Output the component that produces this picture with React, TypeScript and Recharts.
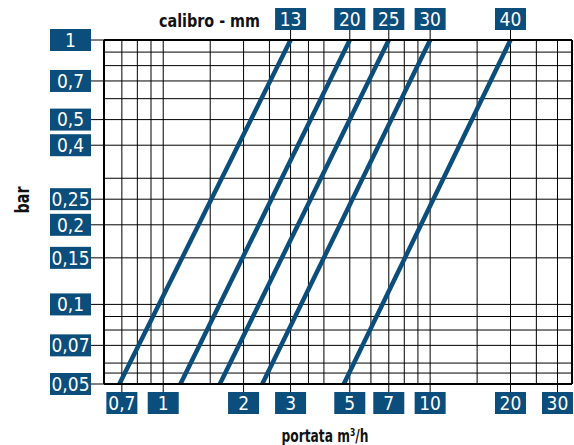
import React from 'react';
import { LineChart, Line, XAxis, YAxis, ReferenceLine } from 'recharts';

// Portata (m³/h) range and pressure drop (bar) range
const X_DOMAIN = [0.6, 34];
const Y_DOMAIN = [0.05, 1];
const X_TICKS = [0.7, 1, 2, 3, 5, 7, 10, 20, 30];
const Y_TICKS = [1, 0.7, 0.5, 0.4, 0.25, 0.2, 0.15, 0.1, 0.07, 0.05];
const X_GRID = [0.7, 0.8, 0.9, 1, 1.5, 2, 2.5, 3, 3.5, 4, 5, 6, 7, 8, 9, 10, 15, 20, 25, 30];
const Y_GRID = [0.9, 0.8, 0.7, 0.6, 0.5, 0.4, 0.3, 0.25, 0.2, 0.15, 0.1, 0.09, 0.08, 0.07, 0.06, 0.055];

// calibri (mm) and their flow at 1 bar / at 0.05 bar
const CALIBRI = ['13', '20', '25', '30', '40'];
const Q_AT_MAX = [3, 5, 7, 10, 20];
const Q_AT_MIN = [0.685, 1.16, 1.63, 2.35, 4.75];
const P_MIN = 0.05;
const P_MAX = 1;

const BLUE = '#0b4d7b';
const FONT = "'Liberation Sans Narrow', 'Arial Narrow', 'DejaVu Sans Condensed', sans-serif";

const fmt = (v: number) => String(v).replace('.', ',');
const calibroFor = (v: number) => {
  const i = Q_AT_MAX.indexOf(v);
  return i >= 0 ? CALIBRI[i] : '';
};

const YTick = (props: any) => {
  const { x, y, payload } = props;
  return (
    <g>
      <rect x={x - 41} y={y - 11} width={41} height={22} fill={BLUE} />
      <text x={x - 20.5} y={y} dy="0.36em" textAnchor="middle" fill="#fff" fontSize={19} fontFamily={FONT}>
        {fmt(payload.value)}
      </text>
    </g>
  );
};

const XTick = (props: any) => {
  const { x, y, payload } = props;
  return (
    <g>
      <rect x={x - 15.5} y={y} width={31} height={22} fill={BLUE} />
      <text x={x} y={y + 11} dy="0.36em" textAnchor="middle" fill="#fff" fontSize={19} fontFamily={FONT}>
        {fmt(payload.value)}
      </text>
    </g>
  );
};

const TopTick = (props: any) => {
  const { x, y, payload } = props;
  return (
    <g>
      <rect x={x - 15.5} y={y - 22} width={31} height={22} fill={BLUE} />
      <text x={x} y={y - 11} dy="0.36em" textAnchor="middle" fill="#fff" fontSize={19} fontFamily={FONT}>
        {calibroFor(payload.value)}
      </text>
    </g>
  );
};

const series = CALIBRI.map((c, i) => ({
  name: c,
  data: [
    { q: Q_AT_MIN[i], p: P_MIN },
    { q: Q_AT_MAX[i], p: P_MAX },
  ],
}));

export default function App() {
  return (
    <div style={{ position: 'absolute', left: 0, top: 0, width: 574, height: 445, background: '#fff' }}>
      <LineChart width={574} height={445} margin={{ top: 0, right: 2, bottom: 0, left: 0 }}>
        <XAxis
          xAxisId="b"
          orientation="bottom"
          type="number"
          dataKey="q"
          scale="log"
          domain={X_DOMAIN}
          allowDataOverflow
          ticks={X_TICKS}
          interval={0}
          height={61}
          tickSize={8}
          tickMargin={0}
          tick={<XTick />}
          axisLine={{ stroke: '#000', strokeWidth: 2 }}
          tickLine={{ stroke: '#000' }}
        />
        <XAxis
          xAxisId="t"
          orientation="top"
          type="number"
          dataKey="q"
          scale="log"
          domain={X_DOMAIN}
          allowDataOverflow
          ticks={Q_AT_MAX}
          interval={0}
          height={40}
          tickSize={10}
          tickMargin={0}
          tick={<TopTick />}
          axisLine={{ stroke: '#000', strokeWidth: 2 }}
          tickLine={{ stroke: '#000' }}
        />
        <YAxis
          type="number"
          dataKey="p"
          scale="log"
          domain={Y_DOMAIN}
          allowDataOverflow
          ticks={Y_TICKS}
          interval={0}
          width={104}
          tickSize={13}
          tickMargin={0}
          tick={<YTick />}
          axisLine={{ stroke: '#000', strokeWidth: 2 }}
          tickLine={{ stroke: '#000' }}
        />
        {X_GRID.map((v) => (
          <ReferenceLine key={'vx' + v} xAxisId="b" x={v} stroke="#000" strokeWidth={1} />
        ))}
        {Y_GRID.map((v) => (
          <ReferenceLine key={'hy' + v} xAxisId="b" y={v} stroke="#000" strokeWidth={1} />
        ))}
        <ReferenceLine xAxisId="b" x={X_DOMAIN[1]} stroke="#000" strokeWidth={2} />
        {series.map((s) => (
          <Line
            key={s.name}
            xAxisId="b"
            data={s.data}
            dataKey="p"
            name={s.name}
            stroke={BLUE}
            strokeWidth={4.5}
            dot={false}
            isAnimationActive={false}
          />
        ))}
      </LineChart>
      <svg width={574} height={445} style={{ position: 'absolute', left: 0, top: 0, pointerEvents: 'none' }}>
        <text
          x={209.5}
          y={27}
          textAnchor="middle"
          fontSize={18}
          fontWeight="bold"
          fontFamily={FONT}
          fill="#111"
          textLength={101}
          lengthAdjust="spacingAndGlyphs"
        >
          calibro - mm
        </text>
        <text
          x={29}
          y={200}
          textAnchor="middle"
          fontSize={19}
          fontWeight="bold"
          fontFamily={FONT}
          fill="#111"
          textLength={27}
          lengthAdjust="spacingAndGlyphs"
          transform="rotate(-90 29 200)"
        >
          bar
        </text>
        <text
          x={325}
          y={442}
          textAnchor="middle"
          fontSize={18}
          fontWeight="bold"
          fontFamily={FONT}
          fill="#111"
          textLength={87}
          lengthAdjust="spacingAndGlyphs"
        >
          portata m³/h
        </text>
      </svg>
    </div>
  );
}
